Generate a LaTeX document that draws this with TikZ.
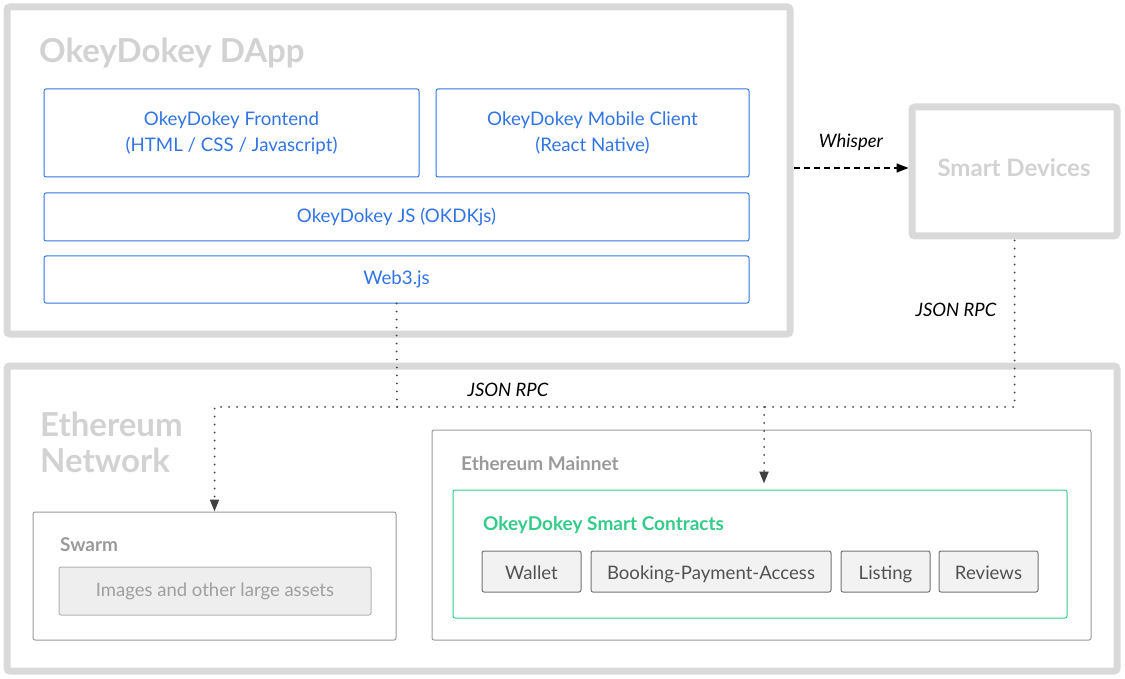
\documentclass[tikz,border=0pt]{standalone}
\usepackage{fontspec}
\setmainfont{Lato}
\usepackage{tikz}
\usetikzlibrary{positioning, arrows.meta}
\definecolor{framegray}{HTML}{D9D9D9}
\definecolor{titlegray}{HTML}{D2D2D2}
\definecolor{okblue}{HTML}{3174E4}
\definecolor{okgreen}{HTML}{33CC88}
\definecolor{midgray}{HTML}{9A9A9A}
\definecolor{linkgray}{HTML}{404040}

\begin{document}
\begin{tikzpicture}[x=1pt, y=-1pt,
  bigbox/.style={draw=framegray, line width=7pt, rounded corners=3pt, minimum width=#1},
  bluebox/.style={draw=okblue, line width=1pt, rounded corners=2pt, text=okblue,
                  font=\fontsize{18.7}{26}\selectfont, align=center},
  thinbox/.style={draw=midgray, line width=1pt, rounded corners=2pt},
  partbox/.style={draw=gray!90!black, fill=gray!10, line width=1pt, rounded corners=2pt,
                  text=black!68, font=\fontsize{18.6}{22}\selectfont, minimum height=41pt,
                  text height=17pt, text depth=2pt},
  bigtitle/.style={text=titlegray, inner sep=0pt, font=\fontsize{33}{36}\selectfont\bfseries},
  subtitle/.style={text=midgray, inner sep=0pt, font=\fontsize{19}{22}\selectfont\bfseries},
  linklabel/.style={font=\fontsize{18.5}{22}\selectfont\itshape},
  dots/.style={draw=linkgray, line width=2pt, dash pattern=on 0pt off 8pt, line cap=round},
  tip/.style={-{Triangle[length=12pt, width=9pt]}}]
\useasboundingbox (0,0) rectangle (1125,679);

% DApp
\node[bigbox=783pt, minimum height=327pt] (dapp) at (398.5,170.5) {};
\node[bigtitle, anchor=base west] (dapptitle) at (39,63) {OkeyDokey DApp};
\node[bluebox, minimum width=375pt, minimum height=88pt] (front) at (231.5,133)
  {OkeyDokey Frontend\\(HTML / CSS / Javascript)};
\node[bluebox, minimum width=313pt, minimum height=88pt] (mobile) at (592.5,133)
  {OkeyDokey Mobile Client\\(React Native)};
\node[bluebox, minimum width=705pt, minimum height=48pt] (okdk) at (396.5,217) {OkeyDokey JS (OKDKjs)};
\node[bluebox, minimum width=705pt, minimum height=47pt] (web3) at (396.5,279.5) {Web3.js};

% devices
\node[bigbox=205pt, minimum height=129pt] (devices) at (1014.5,171.5) {};
\node[text=titlegray, font=\fontsize{24}{26}\selectfont\bfseries] (devtitle) at (1014,168) {Smart Devices};

% network
\node[bigbox=1110pt, minimum height=305pt] (eth) at (562,518.5) {};
\node[bigtitle, align=left, anchor=north west] (ethtitle) at (40,412) {Ethereum\\Network};

\node[thinbox, minimum width=363pt, minimum height=128pt] (swarm) at (214.5,576) {};
\node[subtitle, anchor=base west] (swarmtitle) at (60,551) {Swarm};
\node[draw=gray!60, fill=gray!13, line width=1pt, rounded corners=2pt, text=gray!75,
      font=\fontsize{18.5}{22}\selectfont, minimum width=312pt, minimum height=48pt] (assets) at (215,591)
  {Images and other large assets};

\node[thinbox, minimum width=659pt, minimum height=210pt] (mainnet) at (761.5,535) {};
\node[subtitle, anchor=base west] (mainnettitle) at (461,470) {Ethereum Mainnet};
\node[draw=okgreen, line width=1pt, rounded corners=2pt, minimum width=614pt, minimum height=128pt] (contracts) at (760,554) {};
\node[subtitle, text=okgreen, anchor=base west] (contractstitle) at (483,530) {OkeyDokey Smart Contracts};

\node[partbox, minimum width=99pt] (wallet) at (531.5,571.5) {Wallet};
\node[partbox, minimum width=240pt, right=9pt of wallet] (booking) {Booking-Payment-Access};
\node[partbox, minimum width=89pt, right=9pt of booking] (listing) {Listing};
\node[partbox, minimum width=99pt, right=8pt of listing] (reviews) {Reviews};

% links
\coordinate (hub) at (397,407);
\coordinate (drop) at (764,407);
\draw[draw=black, line width=1.6pt, dash pattern=on 6pt off 4pt, tip] (dapp.east |- devtitle) -- (devices.west |- devtitle);
\node[linklabel] (whisper) at (851,142) {Whisper};
\draw[dots] (web3.south) -- (hub);
\draw[dots, tip] (hub) -| (swarm.north);
\draw[dots] (hub) -| (devices.south);
\draw[dots, tip, shorten >=6pt] (drop) -- (drop |- contracts.north);
\node[linklabel] (rpcleft) at (508,390) {JSON RPC};
\node[linklabel] (rpcright) at (956,310) {JSON RPC};
\end{tikzpicture}
\end{document}
